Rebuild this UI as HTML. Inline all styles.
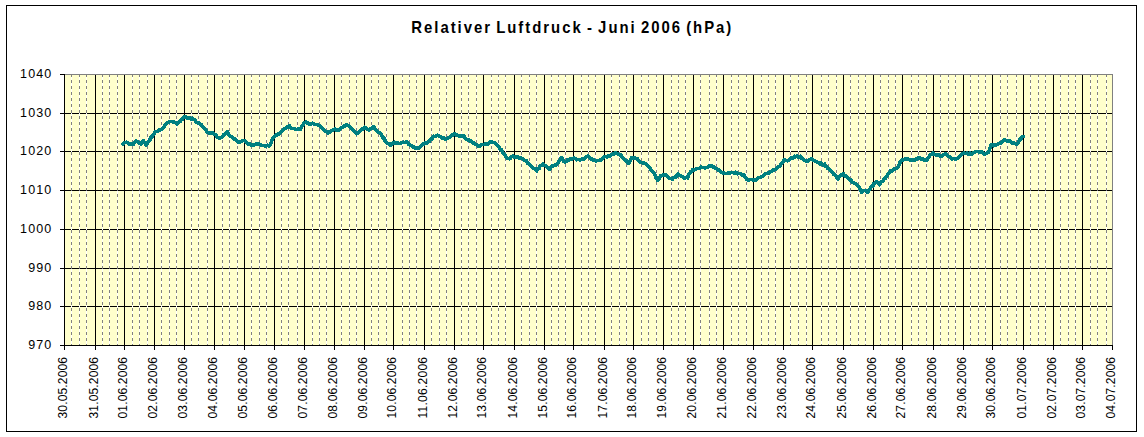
<!DOCTYPE html><html><head><meta charset="utf-8"><style>html,body{margin:0;padding:0;background:#fff;width:1144px;height:437px;overflow:hidden}svg{display:block}text{font-family:"Liberation Sans",sans-serif}</style></head><body>
<svg width="1144" height="437" viewBox="0 0 1144 437">
<rect x="0" y="0" width="1144" height="437" fill="#fff"/>
<rect x="6.5" y="5.5" width="1130" height="426" fill="none" stroke="#000" stroke-width="1" shape-rendering="crispEdges"/>
<rect x="64" y="74" width="1048" height="271" fill="#FFFFCC"/>
<path d="M64 113.5H1112M64 151.5H1112M64 190.5H1112M64 229.5H1112M64 268.5H1112M64 306.5H1112" stroke="#000" stroke-width="1" shape-rendering="crispEdges"/>
<path d="M71.5 74V345M79.5 74V345M86.5 74V345M102.5 74V345M109.5 74V345M117.5 74V345M132.5 74V345M139.5 74V345M147.5 74V345M161.5 74V345M169.5 74V345M176.5 74V345M191.5 74V345M198.5 74V345M207.5 74V345M222.5 74V345M229.5 74V345M237.5 74V345M251.5 74V345M259.5 74V345M266.5 74V345M281.5 74V345M288.5 74V345M297.5 74V345M312.5 74V345M319.5 74V345M326.5 74V345M341.5 74V345M349.5 74V345M356.5 74V345M371.5 74V345M378.5 74V345M386.5 74V345M402.5 74V345M409.5 74V345M416.5 74V345M431.5 74V345M439.5 74V345M446.5 74V345M461.5 74V345M468.5 74V345M476.5 74V345M491.5 74V345M498.5 74V345M505.5 74V345M521.5 74V345M529.5 74V345M536.5 74V345M551.5 74V345M558.5 74V345M565.5 74V345M581.5 74V345M588.5 74V345M595.5 74V345M611.5 74V345M619.5 74V345M626.5 74V345M641.5 74V345M648.5 74V345M656.5 74V345M671.5 74V345M678.5 74V345M685.5 74V345M700.5 74V345M709.5 74V345M716.5 74V345M731.5 74V345M738.5 74V345M746.5 74V345M761.5 74V345M768.5 74V345M775.5 74V345M790.5 74V345M798.5 74V345M806.5 74V345M821.5 74V345M828.5 74V345M836.5 74V345M850.5 74V345M858.5 74V345M865.5 74V345M880.5 74V345M888.5 74V345M895.5 74V345M911.5 74V345M918.5 74V345M926.5 74V345M940.5 74V345M948.5 74V345M955.5 74V345M970.5 74V345M978.5 74V345M985.5 74V345M1000.5 74V345M1007.5 74V345M1016.5 74V345M1030.5 74V345M1038.5 74V345M1045.5 74V345M1060.5 74V345M1068.5 74V345M1075.5 74V345M1090.5 74V345M1097.5 74V345M1106.5 74V345" stroke="#fff" stroke-width="1" shape-rendering="crispEdges"/>
<path d="M71.5 74V345M79.5 74V345M86.5 74V345M102.5 74V345M109.5 74V345M117.5 74V345M132.5 74V345M139.5 74V345M147.5 74V345M161.5 74V345M169.5 74V345M176.5 74V345M191.5 74V345M198.5 74V345M207.5 74V345M222.5 74V345M229.5 74V345M237.5 74V345M251.5 74V345M259.5 74V345M266.5 74V345M281.5 74V345M288.5 74V345M297.5 74V345M312.5 74V345M319.5 74V345M326.5 74V345M341.5 74V345M349.5 74V345M356.5 74V345M371.5 74V345M378.5 74V345M386.5 74V345M402.5 74V345M409.5 74V345M416.5 74V345M431.5 74V345M439.5 74V345M446.5 74V345M461.5 74V345M468.5 74V345M476.5 74V345M491.5 74V345M498.5 74V345M505.5 74V345M521.5 74V345M529.5 74V345M536.5 74V345M551.5 74V345M558.5 74V345M565.5 74V345M581.5 74V345M588.5 74V345M595.5 74V345M611.5 74V345M619.5 74V345M626.5 74V345M641.5 74V345M648.5 74V345M656.5 74V345M671.5 74V345M678.5 74V345M685.5 74V345M700.5 74V345M709.5 74V345M716.5 74V345M731.5 74V345M738.5 74V345M746.5 74V345M761.5 74V345M768.5 74V345M775.5 74V345M790.5 74V345M798.5 74V345M806.5 74V345M821.5 74V345M828.5 74V345M836.5 74V345M850.5 74V345M858.5 74V345M865.5 74V345M880.5 74V345M888.5 74V345M895.5 74V345M911.5 74V345M918.5 74V345M926.5 74V345M940.5 74V345M948.5 74V345M955.5 74V345M970.5 74V345M978.5 74V345M985.5 74V345M1000.5 74V345M1007.5 74V345M1016.5 74V345M1030.5 74V345M1038.5 74V345M1045.5 74V345M1060.5 74V345M1068.5 74V345M1075.5 74V345M1090.5 74V345M1097.5 74V345M1106.5 74V345" stroke="#808080" stroke-width="1" stroke-dasharray="3 3" shape-rendering="crispEdges"/>
<path d="M95.5 74V345M124.5 74V345M154.5 74V345M184.5 74V345M214.5 74V345M244.5 74V345M274.5 74V345M304.5 74V345M334.5 74V345M364.5 74V345M393.5 74V345M424.5 74V345M454.5 74V345M483.5 74V345M514.5 74V345M544.5 74V345M573.5 74V345M604.5 74V345M633.5 74V345M663.5 74V345M693.5 74V345M723.5 74V345M753.5 74V345M783.5 74V345M812.5 74V345M843.5 74V345M873.5 74V345M902.5 74V345M933.5 74V345M963.5 74V345M992.5 74V345M1023.5 74V345M1053.5 74V345M1082.5 74V345" stroke="#000" stroke-width="1" shape-rendering="crispEdges"/>
<path d="M64 74.5H1112.5V345" fill="none" stroke="#808080" stroke-width="1" shape-rendering="crispEdges"/>
<path d="M64.5 74V345.5H1113" fill="none" stroke="#000" stroke-width="1" shape-rendering="crispEdges"/>
<path d="M60 74.5H64M60 113.5H64M60 151.5H64M60 190.5H64M60 229.5H64M60 268.5H64M60 306.5H64M60 345.5H64M64.5 345V350M95.5 345V350M124.5 345V350M154.5 345V350M184.5 345V350M214.5 345V350M244.5 345V350M274.5 345V350M304.5 345V350M334.5 345V350M364.5 345V350M393.5 345V350M424.5 345V350M454.5 345V350M483.5 345V350M514.5 345V350M544.5 345V350M573.5 345V350M604.5 345V350M633.5 345V350M663.5 345V350M693.5 345V350M723.5 345V350M753.5 345V350M783.5 345V350M812.5 345V350M843.5 345V350M873.5 345V350M902.5 345V350M933.5 345V350M963.5 345V350M992.5 345V350M1023.5 345V350M1053.5 345V350M1082.5 345V350M1112.5 345V350" stroke="#000" stroke-width="1" shape-rendering="crispEdges"/>
<path d="M123.2 144.1 L124.6 142.7 L126.4 142.2 L128.0 142.6 L129.2 143.9 L130.5 144.2 L131.9 143.7 L133.3 144.4 L134.6 142.1 L135.8 141.1 L137.1 141.6 L138.3 142.6 L139.7 143.2 L141.0 143.8 L142.2 141.6 L143.3 140.8 L144.7 143.0 L146.1 145.1 L147.2 143.3 L148.4 141.7 L149.6 140.6 L150.7 137.1 L151.8 137.2 L153.0 135.2 L154.1 133.5 L155.2 132.1 L156.3 131.5 L157.5 131.4 L158.8 129.9 L160.0 130.1 L161.1 129.7 L162.2 128.8 L163.6 127.4 L165.0 124.9 L166.1 123.6 L167.3 122.6 L168.4 122.1 L169.8 121.6 L171.1 121.3 L172.5 121.6 L173.9 122.1 L175.2 122.5 L176.6 124.0 L177.7 123.2 L178.9 121.8 L180.0 121.6 L181.4 119.9 L182.7 118.9 L184.1 117.1 L185.5 116.8 L186.9 118.3 L188.3 117.4 L189.7 118.1 L191.0 118.9 L192.4 118.1 L193.5 119.6 L194.7 119.8 L195.8 121.8 L197.2 122.6 L198.6 123.0 L200.0 124.1 L201.1 124.4 L202.3 126.1 L203.4 127.2 L204.8 128.7 L206.1 130.1 L207.5 132.3 L208.9 132.9 L210.2 132.6 L211.6 133.4 L213.0 132.9 L214.3 134.4 L215.7 134.7 L217.1 136.7 L218.4 137.7 L219.8 138.3 L221.0 137.5 L222.1 137.1 L223.3 135.1 L224.6 134.6 L225.8 132.9 L227.1 131.6 L228.2 133.0 L229.4 135.6 L230.5 136.0 L231.6 136.9 L232.8 137.8 L233.9 139.2 L235.3 139.0 L236.6 140.7 L238.0 141.9 L239.2 142.1 L240.3 141.8 L241.5 141.6 L242.8 140.3 L244.2 140.3 L245.4 141.1 L246.5 142.9 L247.7 143.9 L248.8 143.4 L250.0 144.2 L251.1 145.1 L252.2 144.8 L253.4 145.0 L254.5 144.9 L255.7 144.2 L256.8 143.5 L258.0 144.0 L259.1 144.1 L260.3 144.7 L261.4 145.5 L262.5 145.5 L263.7 145.6 L264.8 146.1 L266.2 146.2 L267.6 145.2 L269.0 146.0 L270.3 145.2 L271.4 142.0 L272.4 138.5 L273.5 137.0 L274.7 136.2 L275.8 134.9 L276.9 135.4 L278.1 134.1 L279.2 133.8 L280.4 132.9 L281.5 131.7 L282.7 130.8 L283.8 129.5 L285.0 128.4 L286.1 127.7 L287.2 127.1 L288.4 127.0 L289.5 125.9 L290.7 128.1 L291.8 128.4 L293.0 128.4 L294.4 128.8 L295.7 129.2 L297.1 129.5 L298.2 128.6 L299.4 129.3 L300.5 129.1 L301.9 126.2 L303.3 124.2 L304.6 122.8 L306.0 122.2 L307.4 123.0 L308.7 123.4 L310.1 124.7 L311.5 123.6 L312.8 123.2 L314.2 124.6 L315.6 124.5 L317.0 124.5 L318.4 125.7 L319.8 125.5 L321.1 127.0 L322.5 128.5 L323.9 130.0 L325.2 131.4 L326.6 132.0 L328.0 133.4 L329.1 132.0 L330.3 131.9 L331.4 130.5 L332.5 130.5 L333.7 129.5 L334.8 129.0 L336.2 130.0 L337.6 130.4 L339.0 130.3 L340.4 128.8 L341.7 127.5 L342.8 127.0 L343.9 125.7 L345.1 125.8 L346.2 125.1 L347.3 125.1 L348.5 125.7 L349.6 126.6 L350.7 127.5 L351.9 129.1 L353.0 130.4 L354.2 130.7 L355.3 132.7 L356.5 133.9 L357.9 133.2 L359.2 131.6 L360.6 130.7 L362.0 129.5 L363.3 128.3 L364.7 127.2 L366.1 128.5 L367.4 129.5 L368.8 129.9 L370.0 128.8 L371.2 128.5 L372.4 128.2 L373.6 126.5 L374.8 128.5 L375.9 130.0 L377.1 130.9 L378.5 132.2 L379.8 133.1 L381.2 134.0 L382.5 137.0 L383.9 138.3 L385.1 140.7 L386.2 142.6 L387.4 143.2 L388.5 143.7 L389.7 145.0 L390.8 145.2 L391.9 143.6 L393.1 142.9 L394.2 142.2 L395.4 143.6 L396.5 143.7 L397.7 142.8 L399.1 143.6 L400.4 143.4 L401.8 142.6 L403.2 142.2 L404.6 142.6 L405.9 142.1 L407.3 142.0 L408.7 144.5 L410.0 144.8 L411.4 145.5 L412.5 146.8 L413.7 146.6 L414.8 147.9 L416.0 148.3 L417.1 147.8 L418.3 148.3 L419.4 147.3 L420.6 146.2 L421.7 145.6 L422.8 144.3 L424.0 143.8 L425.1 142.6 L426.5 143.3 L427.8 141.8 L429.2 141.3 L430.6 139.8 L432.0 138.6 L433.4 136.2 L434.8 136.6 L436.1 135.6 L437.5 135.3 L438.9 136.2 L440.2 136.3 L441.6 137.9 L442.8 137.8 L444.0 137.9 L445.2 139.5 L446.4 138.8 L447.8 138.3 L449.1 137.7 L450.5 136.4 L451.9 135.2 L453.2 134.7 L454.6 133.9 L455.7 134.9 L456.9 134.4 L458.0 135.7 L459.1 135.8 L460.5 135.6 L461.8 136.1 L463.2 135.4 L464.6 137.0 L466.0 138.9 L467.4 139.9 L468.7 139.8 L470.1 140.8 L471.5 141.5 L472.8 142.4 L474.2 143.6 L475.6 144.2 L476.9 145.2 L478.3 146.1 L479.7 146.1 L481.1 145.0 L482.5 144.6 L483.9 144.7 L485.2 143.6 L486.6 144.1 L487.8 144.2 L489.0 143.5 L490.2 141.9 L491.4 141.4 L492.8 142.6 L494.1 142.6 L495.5 143.6 L496.6 144.3 L497.8 146.1 L498.9 147.3 L500.1 149.0 L501.2 149.4 L502.4 151.9 L503.5 153.5 L504.7 154.2 L505.8 157.0 L507.1 158.5 L508.5 158.7 L509.9 158.8 L511.3 156.9 L512.7 156.0 L514.1 157.2 L515.4 157.3 L516.8 156.6 L518.2 157.4 L519.5 158.0 L520.9 158.1 L522.3 158.5 L523.6 159.2 L525.0 160.5 L526.4 160.8 L527.7 163.2 L529.1 164.5 L530.5 165.0 L531.9 166.7 L533.3 168.3 L534.4 168.8 L535.6 168.7 L536.7 170.9 L537.8 169.4 L539.0 168.6 L540.1 166.1 L541.5 165.3 L542.9 163.9 L544.0 165.7 L545.2 165.6 L546.3 166.1 L547.4 167.2 L548.6 168.7 L549.7 169.2 L550.9 167.2 L552.0 165.9 L553.2 166.0 L554.6 165.2 L555.9 165.2 L557.3 163.9 L558.7 161.6 L560.0 160.4 L561.4 157.7 L562.5 158.5 L563.7 161.2 L564.8 162.1 L566.2 161.7 L567.6 159.8 L569.0 160.4 L570.3 158.7 L571.5 159.5 L572.8 158.5 L574.1 157.8 L575.3 158.7 L576.5 159.8 L577.7 159.3 L578.9 159.6 L580.1 160.1 L581.3 159.4 L582.5 159.1 L583.7 159.0 L585.1 157.7 L586.4 157.0 L587.8 156.1 L589.2 157.1 L590.6 158.9 L592.0 159.2 L593.4 160.1 L594.7 160.2 L596.1 161.1 L597.5 160.4 L598.8 160.6 L600.2 160.1 L601.6 159.9 L602.9 158.2 L604.3 156.3 L605.7 156.5 L607.0 157.0 L608.4 155.5 L609.8 155.9 L611.2 154.6 L612.6 154.2 L613.9 154.2 L615.3 152.9 L616.7 153.4 L618.0 154.0 L619.4 154.8 L620.8 155.1 L622.1 157.3 L623.5 158.4 L624.9 159.7 L626.3 160.7 L627.6 162.3 L629.0 163.4 L630.4 160.5 L631.8 157.4 L633.1 158.5 L634.5 157.7 L635.9 158.3 L637.3 158.8 L638.7 160.7 L639.8 161.7 L641.0 162.3 L642.1 162.7 L643.5 163.0 L644.8 163.5 L646.2 164.2 L647.3 164.9 L648.5 166.5 L649.6 167.4 L651.0 170.1 L652.4 171.8 L653.8 172.7 L655.2 174.9 L656.5 178.8 L657.9 180.5 L659.2 178.5 L660.6 175.9 L662.0 175.5 L663.4 174.6 L664.8 175.0 L666.1 174.8 L667.5 177.0 L668.9 177.9 L670.0 178.6 L671.2 178.5 L672.3 179.2 L673.4 178.0 L674.6 177.3 L675.7 177.1 L676.8 175.2 L677.8 174.0 L678.9 174.6 L680.1 175.7 L681.2 176.3 L682.6 177.0 L683.9 178.0 L685.3 177.9 L686.5 177.3 L687.7 177.9 L689.1 173.8 L690.5 172.0 L691.6 171.1 L692.8 169.5 L693.9 170.0 L695.3 169.7 L696.6 168.8 L698.0 168.5 L699.4 168.4 L700.8 167.1 L702.2 167.5 L703.6 167.4 L704.9 167.8 L706.3 167.7 L707.6 167.2 L709.0 166.2 L710.4 166.4 L711.8 165.7 L712.9 166.8 L714.1 167.2 L715.2 168.0 L716.6 168.9 L717.9 170.0 L719.3 170.3 L720.5 172.0 L721.6 172.2 L722.8 172.9 L724.2 173.2 L725.5 173.6 L726.9 173.6 L728.1 172.5 L729.3 173.4 L730.5 173.0 L731.7 172.3 L733.1 172.6 L734.4 173.0 L735.8 172.3 L737.2 173.8 L738.5 173.5 L739.9 173.6 L741.3 174.3 L742.6 175.4 L744.0 174.9 L745.4 177.4 L746.8 179.3 L748.2 180.1 L749.6 179.6 L750.9 179.4 L752.3 179.4 L753.4 180.0 L754.6 180.2 L755.7 180.7 L756.8 178.9 L758.0 178.1 L759.1 177.4 L760.5 177.6 L761.9 176.3 L763.3 176.1 L764.7 174.4 L766.0 173.7 L767.4 173.2 L768.8 173.0 L770.1 172.1 L771.5 171.2 L772.9 170.1 L774.2 170.0 L775.6 169.4 L777.0 168.3 L778.3 166.6 L779.7 166.7 L780.9 163.8 L782.0 163.2 L783.2 161.3 L784.6 159.7 L785.9 160.3 L787.3 160.8 L788.4 160.4 L789.6 159.0 L790.7 158.1 L791.9 157.5 L793.0 158.1 L794.2 156.3 L795.3 156.8 L796.5 156.0 L797.6 156.5 L799.0 157.4 L800.5 156.2 L801.6 158.2 L802.7 158.5 L803.9 160.1 L805.0 160.7 L806.2 160.9 L807.3 161.7 L808.5 160.8 L809.6 159.8 L811.0 159.1 L812.4 159.2 L813.5 160.1 L814.7 160.9 L815.8 161.6 L817.2 162.4 L818.5 162.8 L819.9 164.1 L821.1 163.1 L822.3 164.6 L823.5 165.0 L824.7 164.1 L825.8 166.5 L827.0 167.3 L828.1 168.7 L829.5 169.2 L830.9 170.7 L832.3 172.1 L833.6 174.4 L835.0 175.1 L836.4 176.8 L837.8 179.0 L838.9 177.6 L840.1 176.1 L841.2 175.1 L842.2 175.4 L843.3 173.8 L844.7 176.0 L846.0 176.2 L847.4 177.4 L848.8 179.0 L850.1 179.6 L851.5 181.0 L852.9 182.6 L854.2 183.2 L855.6 183.8 L856.7 184.6 L857.9 186.2 L859.0 187.4 L860.4 189.5 L861.8 192.6 L863.1 190.4 L864.5 190.5 L865.9 191.1 L867.3 192.6 L868.6 191.0 L870.0 189.1 L871.4 186.6 L872.8 186.0 L873.9 183.6 L875.1 183.0 L876.2 181.6 L877.3 182.3 L878.5 183.7 L879.6 184.8 L881.0 182.2 L882.4 181.4 L883.8 179.5 L885.2 178.3 L886.5 176.4 L887.9 174.5 L889.2 172.6 L890.6 170.8 L892.0 171.1 L893.3 169.6 L894.7 168.4 L895.9 168.8 L897.0 168.3 L898.2 166.7 L899.5 163.5 L900.9 160.8 L902.1 160.2 L903.2 160.1 L904.4 159.2 L905.8 159.2 L907.1 159.0 L908.5 159.3 L909.9 160.1 L911.2 160.1 L912.6 159.9 L914.0 160.2 L915.2 159.8 L916.3 159.1 L917.5 158.5 L918.6 157.6 L919.8 157.4 L920.9 159.2 L922.1 158.5 L923.2 159.8 L924.6 160.0 L926.0 160.4 L927.4 159.3 L928.8 157.4 L930.1 155.3 L931.5 154.2 L932.8 152.9 L934.2 154.4 L935.6 154.9 L937.0 155.6 L938.1 154.7 L939.3 155.2 L940.4 156.7 L941.8 156.3 L943.1 155.0 L944.5 154.4 L945.7 153.7 L946.8 154.6 L948.0 155.7 L949.4 156.6 L950.7 157.7 L952.1 159.0 L953.2 158.3 L954.4 158.6 L955.5 159.2 L956.6 158.7 L957.8 157.8 L958.9 157.1 L960.3 155.6 L961.7 154.4 L963.1 153.4 L964.5 153.1 L965.8 153.5 L967.2 152.9 L968.6 154.1 L969.9 153.2 L971.3 154.3 L972.6 153.4 L974.0 152.4 L975.4 151.6 L976.8 151.4 L978.2 151.5 L979.6 152.2 L980.9 151.8 L982.3 152.3 L983.6 153.6 L985.0 154.2 L986.2 153.3 L987.3 152.5 L988.5 152.5 L989.9 148.1 L991.2 145.1 L992.3 145.1 L993.5 145.7 L994.6 144.9 L995.8 145.2 L996.9 144.5 L998.1 144.0 L999.2 143.2 L1000.4 143.5 L1001.5 142.3 L1002.9 141.1 L1004.2 140.1 L1005.6 140.3 L1007.0 140.9 L1008.3 140.8 L1009.7 140.9 L1010.9 142.2 L1012.0 143.3 L1013.2 142.9 L1014.3 142.9 L1015.5 143.8 L1016.6 144.3 L1018.0 142.8 L1019.4 140.1 L1020.8 138.9 L1022.1 136.6 L1023.5 136.5" fill="none" stroke="#008080" stroke-width="3.6" stroke-linejoin="round" stroke-linecap="round" shape-rendering="crispEdges"/>
<text transform="translate(411.3,33) scale(0.92,1)" font-size="16.2" font-weight="bold" fill="#000" word-spacing="-2" textLength="347.83" lengthAdjust="spacing">Relativer Luftdruck - Juni 2006 (hPa)</text>
<text x="52.3" y="77.5" font-size="12.5" fill="#000" text-anchor="end" letter-spacing="1.1">1040</text>
<text x="52.3" y="116.5" font-size="12.5" fill="#000" text-anchor="end" letter-spacing="1.1">1030</text>
<text x="52.3" y="154.5" font-size="12.5" fill="#000" text-anchor="end" letter-spacing="1.1">1020</text>
<text x="52.3" y="193.5" font-size="12.5" fill="#000" text-anchor="end" letter-spacing="1.1">1010</text>
<text x="52.3" y="232.5" font-size="12.5" fill="#000" text-anchor="end" letter-spacing="1.1">1000</text>
<text x="52.3" y="271.5" font-size="12.5" fill="#000" text-anchor="end" letter-spacing="1.1">990</text>
<text x="52.3" y="309.5" font-size="12.5" fill="#000" text-anchor="end" letter-spacing="1.1">980</text>
<text x="52.3" y="348.5" font-size="12.5" fill="#000" text-anchor="end" letter-spacing="1.1">970</text>
<text transform="translate(67,357) rotate(-90)" font-size="12" fill="#000" text-anchor="end" textLength="61.5" lengthAdjust="spacing">30.05.2006</text>
<text transform="translate(98,357) rotate(-90)" font-size="12" fill="#000" text-anchor="end" textLength="61.5" lengthAdjust="spacing">31.05.2006</text>
<text transform="translate(127,357) rotate(-90)" font-size="12" fill="#000" text-anchor="end" textLength="61.5" lengthAdjust="spacing">01.06.2006</text>
<text transform="translate(157,357) rotate(-90)" font-size="12" fill="#000" text-anchor="end" textLength="61.5" lengthAdjust="spacing">02.06.2006</text>
<text transform="translate(187,357) rotate(-90)" font-size="12" fill="#000" text-anchor="end" textLength="61.5" lengthAdjust="spacing">03.06.2006</text>
<text transform="translate(217,357) rotate(-90)" font-size="12" fill="#000" text-anchor="end" textLength="61.5" lengthAdjust="spacing">04.06.2006</text>
<text transform="translate(247,357) rotate(-90)" font-size="12" fill="#000" text-anchor="end" textLength="61.5" lengthAdjust="spacing">05.06.2006</text>
<text transform="translate(277,357) rotate(-90)" font-size="12" fill="#000" text-anchor="end" textLength="61.5" lengthAdjust="spacing">06.06.2006</text>
<text transform="translate(307,357) rotate(-90)" font-size="12" fill="#000" text-anchor="end" textLength="61.5" lengthAdjust="spacing">07.06.2006</text>
<text transform="translate(337,357) rotate(-90)" font-size="12" fill="#000" text-anchor="end" textLength="61.5" lengthAdjust="spacing">08.06.2006</text>
<text transform="translate(367,357) rotate(-90)" font-size="12" fill="#000" text-anchor="end" textLength="61.5" lengthAdjust="spacing">09.06.2006</text>
<text transform="translate(396,357) rotate(-90)" font-size="12" fill="#000" text-anchor="end" textLength="61.5" lengthAdjust="spacing">10.06.2006</text>
<text transform="translate(427,357) rotate(-90)" font-size="12" fill="#000" text-anchor="end" textLength="61.5" lengthAdjust="spacing">11.06.2006</text>
<text transform="translate(457,357) rotate(-90)" font-size="12" fill="#000" text-anchor="end" textLength="61.5" lengthAdjust="spacing">12.06.2006</text>
<text transform="translate(486,357) rotate(-90)" font-size="12" fill="#000" text-anchor="end" textLength="61.5" lengthAdjust="spacing">13.06.2006</text>
<text transform="translate(517,357) rotate(-90)" font-size="12" fill="#000" text-anchor="end" textLength="61.5" lengthAdjust="spacing">14.06.2006</text>
<text transform="translate(547,357) rotate(-90)" font-size="12" fill="#000" text-anchor="end" textLength="61.5" lengthAdjust="spacing">15.06.2006</text>
<text transform="translate(576,357) rotate(-90)" font-size="12" fill="#000" text-anchor="end" textLength="61.5" lengthAdjust="spacing">16.06.2006</text>
<text transform="translate(607,357) rotate(-90)" font-size="12" fill="#000" text-anchor="end" textLength="61.5" lengthAdjust="spacing">17.06.2006</text>
<text transform="translate(636,357) rotate(-90)" font-size="12" fill="#000" text-anchor="end" textLength="61.5" lengthAdjust="spacing">18.06.2006</text>
<text transform="translate(666,357) rotate(-90)" font-size="12" fill="#000" text-anchor="end" textLength="61.5" lengthAdjust="spacing">19.06.2006</text>
<text transform="translate(696,357) rotate(-90)" font-size="12" fill="#000" text-anchor="end" textLength="61.5" lengthAdjust="spacing">20.06.2006</text>
<text transform="translate(726,357) rotate(-90)" font-size="12" fill="#000" text-anchor="end" textLength="61.5" lengthAdjust="spacing">21.06.2006</text>
<text transform="translate(756,357) rotate(-90)" font-size="12" fill="#000" text-anchor="end" textLength="61.5" lengthAdjust="spacing">22.06.2006</text>
<text transform="translate(786,357) rotate(-90)" font-size="12" fill="#000" text-anchor="end" textLength="61.5" lengthAdjust="spacing">23.06.2006</text>
<text transform="translate(815,357) rotate(-90)" font-size="12" fill="#000" text-anchor="end" textLength="61.5" lengthAdjust="spacing">24.06.2006</text>
<text transform="translate(846,357) rotate(-90)" font-size="12" fill="#000" text-anchor="end" textLength="61.5" lengthAdjust="spacing">25.06.2006</text>
<text transform="translate(876,357) rotate(-90)" font-size="12" fill="#000" text-anchor="end" textLength="61.5" lengthAdjust="spacing">26.06.2006</text>
<text transform="translate(905,357) rotate(-90)" font-size="12" fill="#000" text-anchor="end" textLength="61.5" lengthAdjust="spacing">27.06.2006</text>
<text transform="translate(936,357) rotate(-90)" font-size="12" fill="#000" text-anchor="end" textLength="61.5" lengthAdjust="spacing">28.06.2006</text>
<text transform="translate(966,357) rotate(-90)" font-size="12" fill="#000" text-anchor="end" textLength="61.5" lengthAdjust="spacing">29.06.2006</text>
<text transform="translate(995,357) rotate(-90)" font-size="12" fill="#000" text-anchor="end" textLength="61.5" lengthAdjust="spacing">30.06.2006</text>
<text transform="translate(1026,357) rotate(-90)" font-size="12" fill="#000" text-anchor="end" textLength="61.5" lengthAdjust="spacing">01.07.2006</text>
<text transform="translate(1056,357) rotate(-90)" font-size="12" fill="#000" text-anchor="end" textLength="61.5" lengthAdjust="spacing">02.07.2006</text>
<text transform="translate(1085,357) rotate(-90)" font-size="12" fill="#000" text-anchor="end" textLength="61.5" lengthAdjust="spacing">03.07.2006</text>
<text transform="translate(1115,357) rotate(-90)" font-size="12" fill="#000" text-anchor="end" textLength="61.5" lengthAdjust="spacing">04.07.2006</text>
</svg></body></html>
